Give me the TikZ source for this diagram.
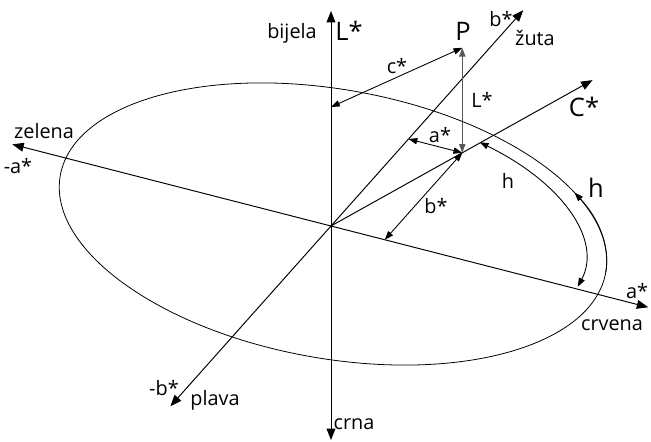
\documentclass[tikz,border=0pt]{standalone}
\usepackage{fontspec}
\setmainfont{Open Sans}
\usetikzlibrary{arrows.meta,calc}
\tikzset{
  every picture/.style={font=\fontsize{11.3}{13}\selectfont},
  axis/.style={line width=0.55pt,{Triangle[length=6.5pt,width=5pt]}-{Triangle[length=6.5pt,width=5pt]}},
  ray/.style={line width=0.55pt,-{Triangle[length=6.5pt,width=5pt]}},
  dim/.style={line width=0.5pt,{Triangle[length=5pt,width=3.6pt]}-{Triangle[length=5pt,width=3.6pt]}},
  rim/.style={line width=0.45pt},
  lbl/.style={inner sep=0pt},
  big/.style={inner sep=0pt,font=\fontsize{14.5}{17}\selectfont},
}
\begin{document}
\begin{tikzpicture}
  \useasboundingbox (-6.62,-4.32) rectangle (6.4,4.52);
  \coordinate (O) at (0,0);
  % the three axes
  \coordinate (Ltop) at (0,4.3);
  \coordinate (Lbot) at (0,-4.28);
  \coordinate (apos) at (-14.37:6.55);
  \coordinate (aneg) at (165.63:6.58);
  \coordinate (bpos) at (48.3:5.78);
  \coordinate (bneg) at (228.3:4.83);
  \draw[axis] (Lbot) -- (Ltop);
  \draw[axis] (aneg) -- (apos);
  \draw[axis] (bneg) -- (bpos);
  % the colour P and its parts
  \coordinate (Aa) at (-14.37:1.11);
  \coordinate (Bb) at (48.3:2.33);
  \coordinate (Q) at ($(Aa)+(Bb)$);
  \coordinate (P) at ($(Q)+(0,2.1)$);
  \coordinate (Lc) at (0,2.38);
  \coordinate (Cend) at ($(O)!5.99cm!(Q)$);
  \draw[ray] (O) -- (Cend);
  \draw[dim] (Q) -- (Bb);
  \draw[dim] (Q) -- (Aa);
  \draw[dim,black!65] (Q) -- (P);
  \draw[dim] (P) -- (Lc);
  % ellipse and the hue angle
  \begin{scope}[shift={(0.04,0.04)},rotate=-10.1]
    \draw[rim] (0,0) ellipse[x radius=5.54,y radius=2.69];
    \draw[dim] (59.3:5.1 and 2.47) arc[start angle=59.3,end angle=-8.8,x radius=5.1,y radius=2.47];
    \draw[rim,-{Triangle[length=5pt,width=3.6pt]}] (0:5.54 and 2.69)
      arc[start angle=0,end angle=33,x radius=5.54,y radius=2.69];
  \end{scope}
  % labels
  \node[lbl] (bijela) at (-0.78,3.86) {bijela};
  \node[big] (Lname) at (0.36,3.9) {L*};
  \node[big] (Pname) at (2.64,3.9) {P};
  \node[lbl] (bname) at (3.4,4.14) {b*};
  \node[lbl] (zuta) at (4.08,3.76) {žuta};
  \node[lbl] (cdim) at (1.32,3.2) {c*};
  \node[lbl] (Ldim) at (3.02,2.52) {L*};
  \node[lbl] (adim) at (2.18,1.82) {a*};
  \node[big] (Cname) at (5.06,2.38) {C*};
  \node[lbl] (hdim) at (3.54,0.9) {h};
  \node[big] (hname) at (5.3,0.76) {h};
  \node[lbl] (bdim) at (2.1,0.4) {b*};
  \node[lbl] (aname) at (6.12,-1.3) {a*};
  \node[lbl] (crvena) at (5.62,-1.98) {crvena};
  \node[lbl] (zelena) at (-5.74,1.9) {zelena};
  \node[lbl] (naname) at (-6.26,1.2) {-a*};
  \node[lbl] (nbname) at (-3.34,-3.24) {-b*};
  \node[lbl] (plava) at (-2.32,-3.48) {plava};
  \node[lbl] (crna) at (0.46,-3.96) {crna};
\end{tikzpicture}
\end{document}
